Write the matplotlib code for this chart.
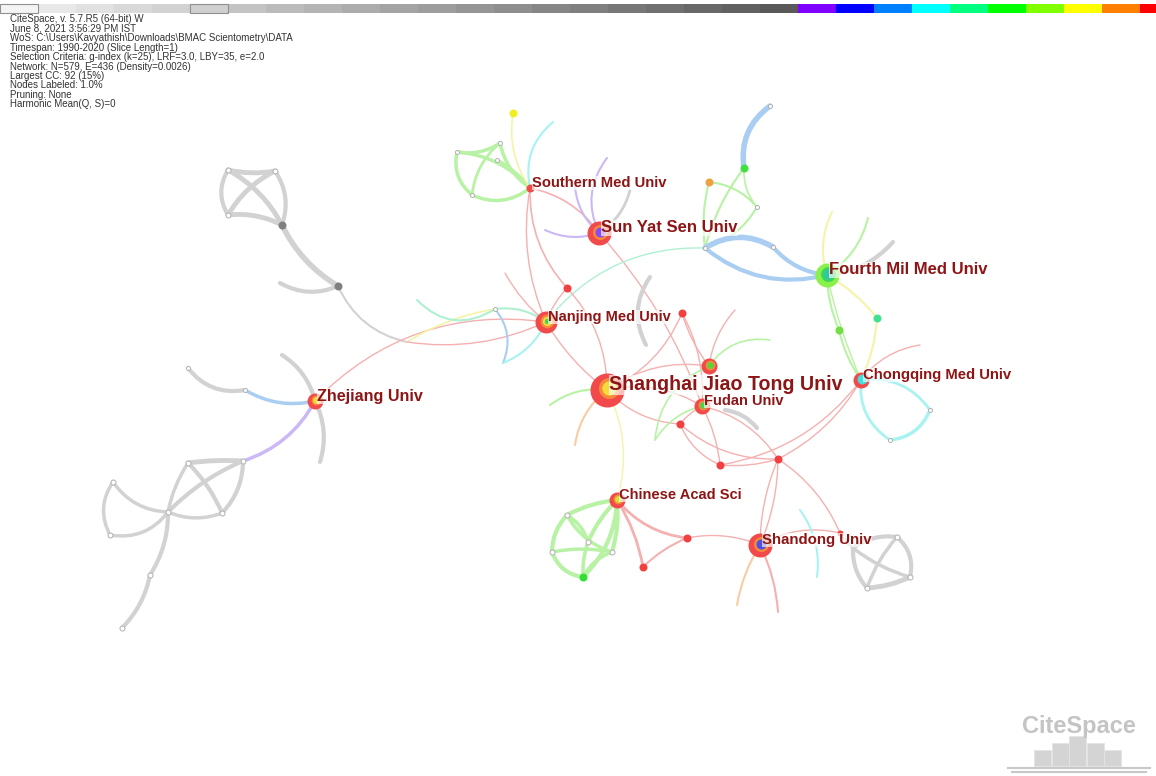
import numpy as np
import matplotlib.pyplot as plt
from matplotlib.patches import FancyArrowPatch, Rectangle

plt.rcParams['font.family'] = ['Liberation Sans', 'DejaVu Sans']

# header info
info_lines = [
    'CiteSpace, v. 5.7.R5 (64-bit) W',
    'June 8, 2021 3:56:29 PM IST',
    'WoS: C:\\Users\\Kavyathish\\Downloads\\BMAC Scientometry\\DATA',
    'Timespan: 1990-2020 (Slice Length=1)',
    'Selection Criteria: g-index (k=25), LRF=3.0, LBY=35, e=2.0',
    'Network: N=579, E=436 (Density=0.0026)',
    'Largest CC: 92 (15%)',
    'Nodes Labeled: 1.0%',
    'Pruning: None',
    'Harmonic Mean(Q, S)=0',
]

# time slices 1990-2020, gray for early years then spectrum
years = list(range(1990, 2021))
slice_colors = ([str(v) for v in np.linspace(0.94, 0.35, 21)] +
                ['#8000ff', '#0000ff', '#0080ff', '#00ffff', '#00ff80',
                 '#00ff00', '#80ff00', '#ffff00', '#ff8000', '#ff0000'])

# labeled institutions
inst_ids = ['SJTU', 'SYSU', 'SMU', 'FMMU', 'NJMU', 'ZJU', 'CQMU', 'FUDAN', 'CAS', 'SDU', 'n1']
inst_labels = ['Shanghai Jiao Tong Univ', 'Sun Yat Sen Univ', 'Southern Med Univ',
               'Fourth Mil Med Univ', 'Nanjing Med Univ', 'Zhejiang Univ',
               'Chongqing Med Univ', 'Fudan Univ', 'Chinese Acad Sci', 'Shandong Univ', '']
inst_x = [607, 599, 530, 827, 546, 315, 861, 702, 617, 760, 709]
inst_y = [390, 233, 188, 275, 322, 401, 380, 406, 500, 545, 366]
inst_r = [17, 12, 4, 12, 11, 8, 8, 8, 8, 12, 8]
inst_font = [14.1, 12, 10.6, 12, 10.5, 11.6, 10.7, 10.5, 10.5, 10.8, 10]
inst_rings = [
    ['#f24a4a', '#f58a3a', '#f5dc3c'],
    ['#f24a4a', '#f58a3a', '#8a4af0'],
    ['#f24a4a'],
    ['#8af04a', '#3ed65a', '#30c8a0'],
    ['#f24a4a', '#f58a3a', '#f5dc3c', '#50d050'],
    ['#f24a4a', '#f58a3a', '#f5dc3c'],
    ['#f24a4a', '#40e0e0'],
    ['#f24a4a', '#f58a3a', '#50d050'],
    ['#f24a4a', '#f58a3a', '#d8e030'],
    ['#f24a4a', '#f58a3a', '#5050e0'],
    ['#f24a4a', '#f58a3a', '#60d040'],
]

# other nodes: id, x, y, radius, colour ('' = small hollow end point)
node_ids = ['r1', 'r2', 'r3', 'r4', 'r5', 'r6', 'r7', 'r8', 'y1',
            'g1', 'g2', 'g3', 'g4', 'c1', 'p1', 'p2', 'p3', 'k1',
            'b1', 'b2', 'b3', 'b4', 'b5', 'b6', 'f1', 'f2', 'f3', 'f4', 'f5',
            't1', 't2', 't3', 't4', 't5', 't6', 'j0',
            'z1', 'z2', 'z3', 'z4', 'z5', 'z6', 'z7', 'z8', 'z9', 'z10', 'z11', 'z12',
            'a1', 'a2', 'a3', 'a4', 'k2', 'k3', 'k4', 'k5', 'q1', 'q2', 'q3',
            'h1', 'h2', 'h3', 'h4', 'h5', 's1', 's2', 's3', 's4', 's5', 's6', 's7', 's8',
            'x1', 'x2', 'x3', 'x4', 'x5']
node_x = [567, 682, 680, 720, 778, 687, 643, 840, 513,
          457, 500, 497, 472, 553, 607, 575, 545, 630,
          770, 744, 709, 757, 705, 773, 839, 877, 832, 868, 893,
          228, 275, 228, 282, 338, 280, 407,
          188, 245, 282, 320, 243, 188, 113, 168, 222, 110, 150, 122,
          417, 495, 503, 505, 650, 646, 725, 757, 930, 890, 920,
          567, 552, 588, 612, 583, 897, 910, 867, 853, 778, 737, 817, 800,
          575, 550, 655, 770, 735]
node_y = [288, 313, 424, 465, 459, 538, 567, 533, 113,
          152, 143, 160, 195, 122, 158, 187, 230, 190,
          106, 168, 182, 207, 248, 247, 330, 318, 212, 218, 242,
          170, 171, 215, 225, 286, 283, 342,
          368, 390, 355, 462, 461, 463, 482, 512, 513, 535, 575, 628,
          300, 309, 363, 273, 277, 345, 410, 428, 410, 440, 345,
          515, 552, 542, 552, 577, 537, 577, 588, 548, 612, 605, 577, 510,
          445, 405, 440, 340, 310]
node_r = [4, 4, 4, 4, 4, 4, 4, 3, 4,
          2, 2, 2, 2, 0, 0, 0, 0, 0,
          2, 4, 4, 2, 2, 2, 4, 4, 0, 0, 0,
          2.5, 2.5, 2.5, 4, 4, 0, 0,
          2, 2, 0, 0, 2.5, 2.5, 2.5, 2.5, 2.5, 2.5, 2.5, 2.5,
          0, 2, 0, 0, 0, 0, 0, 0, 2, 2, 0,
          2.5, 2.5, 2.5, 2.5, 4, 2.5, 2.5, 2.5, 0, 0, 0, 0, 0,
          0, 0, 0, 0, 0]
node_col = ['#f24040'] * 8 + ['#f0f020'] + [''] * 9 + \
           ['', '#40e040', '#f0a040', '', '', '', '#70e040', '#40e090', '', '', ''] + \
           ['', '', '', '#808080', '#808080', '', ''] + [''] * 12 + \
           [''] * 11 + [''] * 4 + ['#30e030'] + [''] * 8 + [''] * 5

edge_colors = {'red': '#f5b0b0', 'gray': '#d2d2d2', 'green': '#b8f2a4', 'blue': '#aacdf2',
               'purple': '#cbb8f6', 'cyan': '#a8f2f2', 'yellow': '#f4f4a8',
               'orange': '#f8cca4', 'spring': '#aef0d2'}

# edges: source, target, curvature, colour, width
edges = [
    ('t1', 't2', 0.1, 'gray', 3.5), ('t1', 't4', -0.15, 'gray', 3.5),
    ('t2', 't3', 0.15, 'gray', 3.5), ('t3', 't4', -0.15, 'gray', 3.5),
    ('t2', 't4', -0.25, 'gray', 3), ('t1', 't3', 0.3, 'gray', 3),
    ('t4', 't5', 0.15, 'gray', 4), ('t6', 't5', 0.25, 'gray', 3),
    ('t5', 'j0', 0.25, 'gray', 1.5), ('ZJU', 'NJMU', -0.25, 'red', 1),
    ('j0', 'a2', -0.1, 'yellow', 1.2), ('j0', 'NJMU', 0.15, 'red', 1),
    ('z1', 'z2', 0.3, 'gray', 3), ('z2', 'ZJU', 0.2, 'blue', 2.5),
    ('z3', 'ZJU', -0.2, 'gray', 3), ('ZJU', 'z4', -0.2, 'gray', 3),
    ('ZJU', 'z5', -0.2, 'purple', 2.5),
    ('z5', 'z6', 0.05, 'gray', 3.5), ('z5', 'z8', 0.1, 'gray', 3),
    ('z6', 'z9', -0.1, 'gray', 3), ('z5', 'z9', -0.2, 'gray', 3),
    ('z7', 'z8', 0.25, 'gray', 2.5), ('z7', 'z10', 0.3, 'gray', 2.5),
    ('z10', 'z8', 0.3, 'gray', 2.5), ('z8', 'z9', 0.2, 'gray', 2.5),
    ('z8', 'z11', -0.15, 'gray', 3), ('z11', 'z12', -0.15, 'gray', 3),
    ('z6', 'z8', 0.1, 'gray', 2.5),
    ('SMU', 'g1', 0.2, 'green', 2.5), ('SMU', 'g2', -0.2, 'green', 2.5),
    ('SMU', 'g3', 0.1, 'green', 2.5), ('SMU', 'g4', -0.3, 'green', 2.5),
    ('g1', 'g2', 0.2, 'green', 2.5), ('g1', 'g4', 0.3, 'green', 2.5),
    ('g2', 'g4', 0.2, 'green', 2), ('SMU', 'y1', -0.2, 'yellow', 1.2),
    ('SMU', 'c1', -0.3, 'cyan', 1.5), ('SMU', 'SYSU', -0.2, 'red', 1.2),
    ('SMU', 'r1', 0.2, 'red', 1.2), ('SMU', 'NJMU', 0.15, 'red', 1),
    ('p1', 'SYSU', 0.3, 'purple', 1.5), ('p2', 'SYSU', 0.2, 'purple', 1.5),
    ('p3', 'SYSU', 0.2, 'purple', 1.5), ('k1', 'SYSU', -0.2, 'gray', 2),
    ('SYSU', 'FUDAN', -0.1, 'red', 1), ('NJMU', 'b5', -0.25, 'spring', 1),
    ('b1', 'b2', 0.3, 'blue', 4), ('b2', 'b5', 0.1, 'green', 1.5),
    ('b3', 'b5', 0.1, 'green', 1.5), ('b3', 'b4', -0.2, 'green', 1.5),
    ('b4', 'b5', -0.2, 'green', 1.5), ('b2', 'b4', 0.2, 'green', 1.2),
    ('b5', 'b6', -0.3, 'blue', 4), ('b6', 'FMMU', 0.2, 'blue', 3),
    ('b5', 'FMMU', 0.25, 'blue', 3),
    ('f3', 'FMMU', 0.2, 'yellow', 1.5), ('f4', 'FMMU', -0.2, 'green', 1.5),
    ('f5', 'FMMU', -0.2, 'gray', 3), ('FMMU', 'f1', 0.1, 'green', 1.5),
    ('FMMU', 'f2', -0.1, 'yellow', 1.5), ('f1', 'CQMU', 0.1, 'green', 1.5),
    ('f2', 'CQMU', -0.1, 'yellow', 1.5), ('FMMU', 'CQMU', 0.05, 'green', 1),
    ('CQMU', 'q1', -0.3, 'cyan', 2), ('q1', 'q2', -0.3, 'cyan', 2.5),
    ('CQMU', 'q2', 0.3, 'cyan', 2), ('CQMU', 'q3', -0.2, 'red', 1),
    ('CQMU', 'r5', -0.15, 'red', 1), ('CQMU', 'r4', -0.2, 'red', 1),
    ('NJMU', 'SJTU', 0.1, 'red', 1), ('NJMU', 'r1', -0.1, 'red', 1),
    ('NJMU', 'a4', -0.1, 'red', 1), ('r1', 'SJTU', -0.2, 'red', 1),
    ('SJTU', 'r2', 0.2, 'red', 1), ('SJTU', 'FUDAN', -0.2, 'red', 1),
    ('SJTU', 'r3', 0.2, 'red', 1), ('SJTU', 'n1', -0.2, 'red', 1),
    ('r2', 'n1', 0.1, 'red', 1), ('x5', 'n1', 0.15, 'red', 1),
    ('r2', 'FUDAN', -0.15, 'red', 1), ('FUDAN', 'r3', 0.1, 'red', 1),
    ('FUDAN', 'r4', -0.1, 'red', 1), ('FUDAN', 'r5', -0.2, 'red', 1),
    ('r3', 'r5', 0.2, 'red', 1), ('r3', 'r4', 0.2, 'red', 1),
    ('r4', 'r5', 0.1, 'red', 1), ('r5', 'SDU', -0.1, 'red', 1),
    ('r5', 'r8', -0.15, 'red', 1), ('r5', 'SDU', 0.1, 'red', 1),
    ('SDU', 'r8', -0.2, 'red', 1), ('r6', 'SDU', -0.15, 'red', 1),
    ('CAS', 'r6', 0.2, 'red', 2), ('CAS', 'r7', -0.1, 'red', 2),
    ('r6', 'r7', 0.1, 'red', 1.5), ('SDU', 's5', -0.1, 'red', 1.5),
    ('SDU', 's6', 0.1, 'orange', 1.5), ('s8', 's7', -0.2, 'cyan', 1.5),
    ('SJTU', 'x1', 0.2, 'orange', 1.5), ('SJTU', 'x2', 0.2, 'green', 1.5),
    ('SJTU', 'CAS', -0.2, 'yellow', 1), ('n1', 'x4', -0.3, 'green', 1.2),
    ('n1', 'x3', 0.3, 'green', 1.2), ('x3', 'FUDAN', -0.2, 'green', 1.2),
    ('k2', 'k3', 0.3, 'gray', 3), ('k4', 'k5', -0.2, 'gray', 3),
    ('a1', 'a2', 0.4, 'spring', 1.5), ('a2', 'NJMU', -0.2, 'spring', 1.5),
    ('a2', 'a3', -0.3, 'blue', 1.5), ('a3', 'NJMU', 0.2, 'cyan', 1.5),
    ('CAS', 'h1', 0.1, 'green', 3), ('CAS', 'h3', 0.1, 'green', 3),
    ('CAS', 'h4', -0.1, 'green', 3), ('CAS', 'h5', -0.2, 'green', 3),
    ('h1', 'h2', 0.2, 'green', 3), ('h1', 'h3', -0.2, 'green', 2.5),
    ('h2', 'h5', 0.3, 'green', 3), ('h2', 'h4', -0.1, 'green', 2.5),
    ('h3', 'h5', 0.1, 'green', 2.5), ('h4', 'h5', 0.2, 'green', 2.5),
    ('h1', 'h4', 0.2, 'green', 2.5),
    ('s4', 's1', -0.2, 'gray', 3), ('s1', 's2', -0.3, 'gray', 3),
    ('s2', 's3', -0.1, 'gray', 3.5), ('s3', 's4', -0.2, 'gray', 3),
    ('s4', 's2', 0.1, 'gray', 2.5), ('s1', 's3', 0.1, 'gray', 2.5),
    ('r8', 's4', 0.1, 'gray', 2),
]

pos = {}
for i, n in enumerate(inst_ids):
    pos[n] = (inst_x[i], inst_y[i])
for i, n in enumerate(node_ids):
    pos[n] = (node_x[i], node_y[i])

fig = plt.figure(figsize=(11.56, 7.76), dpi=100)
ax = fig.add_axes([0, 0, 1, 1])
ax.set_xlim(0, 1156)
ax.set_ylim(776, 0)
ax.axis('off')

# time slice bar
w = 38
for i, c in enumerate(slice_colors):
    ax.add_patch(Rectangle((i * w, 4), w, 9, facecolor=c, edgecolor='none'))
ax.add_patch(Rectangle((0, 4), w, 9, facecolor='#f4f4f4', edgecolor='#909090', lw=0.8))
ax.add_patch(Rectangle((5 * w, 4), w, 9, facecolor='#d0d0d0', edgecolor='#909090', lw=0.8))

for i, line in enumerate(info_lines):
    ax.text(10, 19.5 + i * 9.4, line, fontsize=7, color='#333333', va='center',
            family=['Liberation Sans', 'DejaVu Sans'])

# edges
for a, b, rad, c, lw in edges:
    p = FancyArrowPatch(pos[a], pos[b], connectionstyle=f'arc3,rad={rad}',
                        arrowstyle='-', color=edge_colors[c], lw=lw,
                        shrinkA=0, shrinkB=0, capstyle='round', zorder=1)
    ax.add_patch(p)

# small nodes
k = 0.72
for i, n in enumerate(node_ids):
    r = node_r[i]
    if r == 0:
        continue
    if node_col[i]:
        ax.scatter(node_x[i], node_y[i], s=(2 * r * k) ** 2, color=node_col[i], zorder=3, lw=0)
    else:
        ax.scatter(node_x[i], node_y[i], s=(2 * r * k) ** 2, facecolor='white',
                   edgecolor='#b0b0b0', lw=0.7, zorder=3)

# ring nodes and labels
fracs = [1.0, 0.62, 0.42, 0.25]
for i, n in enumerate(inst_ids):
    for j, c in enumerate(inst_rings[i]):
        rr = inst_r[i] * fracs[j]
        off = 0 if j == 0 else inst_r[i] * 0.12
        ax.scatter(inst_x[i] + off, inst_y[i] - off, s=(2 * rr * k) ** 2, color=c,
                   lw=0, zorder=4 + j)
    if inst_labels[i]:
        ax.text(inst_x[i] + 2, inst_y[i] - 5, inst_labels[i], fontsize=inst_font[i],
                fontweight='bold', color='#8e1515', va='center', ha='left', zorder=10,
                bbox=dict(facecolor='white', alpha=0.65, edgecolor='none', pad=0.3))

# CiteSpace logo
ax.text(1079, 726, 'CiteSpace', fontsize=17, fontweight='bold', color='#c4c4c4',
        ha='center', va='center')
bar_h = [16, 23, 30, 23, 16]
for i, h in enumerate(bar_h):
    ax.add_patch(Rectangle((1034 + i * 17.6, 766 - h), 17, h, facecolor='#d4d4d4',
                           edgecolor='#e4e4e4', lw=0.6))
ax.plot([1008, 1150], [768, 768], color='#c8c8c8', lw=1.5)
ax.plot([1012, 1146], [772, 772], color='#c8c8c8', lw=1.5)

fig.savefig('out.png', dpi=100, facecolor='white')
